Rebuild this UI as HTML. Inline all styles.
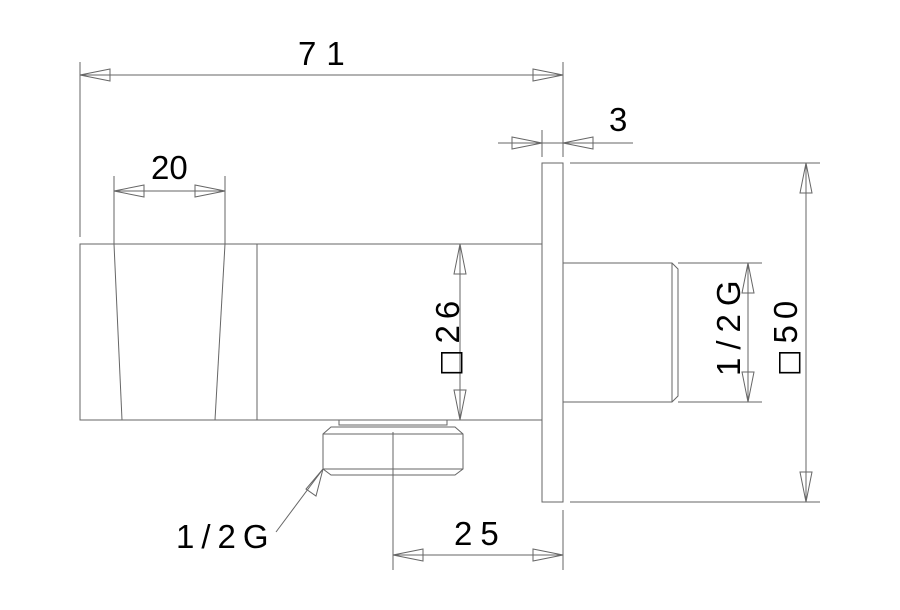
<!DOCTYPE html>
<html><head><style>
html,body{margin:0;padding:0;background:#fff;width:900px;height:610px;overflow:hidden}
svg{display:block}
text{font-family:"Liberation Sans",sans-serif;fill:#000}
.sq{font-family:"DejaVu Sans",sans-serif;font-size:28px}
</style></head><body>
<svg width="900" height="610" viewBox="0 0 900 610">
<g stroke="#666" stroke-width="1" fill="none">
<rect x="80" y="244" width="462" height="176"/>
<line x1="114" y1="244" x2="122" y2="420"/>
<line x1="225" y1="244" x2="215" y2="420"/>
<line x1="257" y1="244" x2="257" y2="420"/>
<rect x="542" y="163" width="21" height="339"/>
<polyline points="563,263 672,263 678,269 678,396 672,402 563,402"/>
<line x1="672" y1="263" x2="672" y2="402"/>
<rect x="339" y="420" width="108" height="5"/>
<polygon points="331,427 455,427 463,434 463,469 455,475 331,475 323,469 323,434"/>
<line x1="323" y1="434" x2="463" y2="434"/>
<line x1="323" y1="469" x2="463" y2="469"/>
<line x1="393" y1="432" x2="393" y2="570"/>
<line x1="80" y1="62" x2="80" y2="237"/>
<line x1="563" y1="62" x2="563" y2="155"/>
<line x1="80" y1="75" x2="563" y2="75"/>
<line x1="114" y1="176" x2="114" y2="244"/>
<line x1="225" y1="176" x2="225" y2="244"/>
<line x1="114" y1="191" x2="225" y2="191"/>
<line x1="542" y1="130" x2="542" y2="157"/>
<line x1="563" y1="130" x2="563" y2="157"/>
<line x1="498" y1="143" x2="633" y2="143"/>
<line x1="460" y1="244" x2="460" y2="420"/>
<line x1="678" y1="263" x2="762" y2="263"/>
<line x1="678" y1="402" x2="762" y2="402"/>
<line x1="748" y1="263" x2="748" y2="402"/>
<line x1="570" y1="163" x2="820" y2="163"/>
<line x1="570" y1="502" x2="820" y2="502"/>
<line x1="806" y1="163" x2="806" y2="502"/>
<line x1="563" y1="510" x2="563" y2="570"/>
<line x1="393" y1="555" x2="563" y2="555"/>
<line x1="323" y1="469" x2="276" y2="532"/>
<polygon points="80,75 110,69 110,81"/>
<polygon points="563,75 533,69 533,81"/>
<polygon points="114,191 144,185 144,197"/>
<polygon points="225,191 195,185 195,197"/>
<polygon points="542,143 512,137 512,149"/>
<polygon points="563,143 593,137 593,149"/>
<polygon points="460,244 454,274 466,274"/>
<polygon points="460,420 454,390 466,390"/>
<polygon points="748,263 742,293 754,293"/>
<polygon points="748,402 742,372 754,372"/>
<polygon points="806,163 800,193 812,193"/>
<polygon points="806,502 800,472 812,472"/>
<polygon points="393,555 423,549 423,561"/>
<polygon points="563,555 533,549 533,561"/>
<polygon points="323,469 316,496 306,489"/>
</g>
<g font-size="33">
<text x="298" y="65" letter-spacing="10">71</text>
<text x="151" y="179">20</text>
<text x="609" y="131">3</text>
<text x="454" y="545" letter-spacing="8">25</text>
<text x="176" y="548" letter-spacing="7">1/2G</text>
<text transform="translate(459,376) rotate(-90)" letter-spacing="6"><tspan class="sq">□</tspan>26</text>
<text transform="translate(740,376) rotate(-90)" letter-spacing="8">1/2G</text>
<text transform="translate(797,376) rotate(-90)" letter-spacing="6"><tspan class="sq">□</tspan>50</text>
</g>
</svg>
</body></html>
